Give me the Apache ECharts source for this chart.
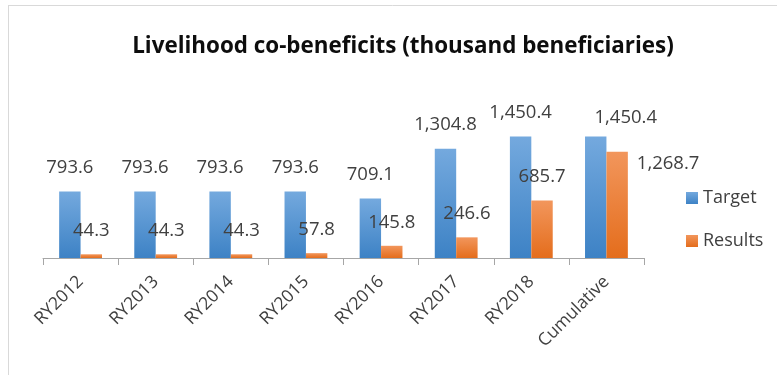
<!DOCTYPE html>
<html>
<head>
<meta charset="utf-8">
<script src="https://cdn.jsdelivr.net/npm/echarts@6/dist/echarts.min.js"></script>
<style>
html,body{margin:0;padding:0;background:#fff;}
#chart{width:777px;height:375px;}
</style>
</head>
<body>
<div id="chart"></div>
<script>
var categories = ['RY2012','RY2013','RY2014','RY2015','RY2016','RY2017','RY2018','Cumulative'];
var targetValues = [793.6, 793.6, 793.6, 793.6, 709.1, 1304.8, 1450.4, 1450.4];
var resultValues = [44.3, 44.3, 44.3, 57.8, 145.8, 246.6, 685.7, 1268.7];
var seriesNames = ['Target', 'Results'];
var chartTitle = 'Livelihood co-beneficits (thousand beneficiaries)';

var labelFont = 'Open Sans';
var labelColor = '#404040';

function fmt(p) {
  return Number(p.value).toLocaleString('en-US', {minimumFractionDigits: 1, maximumFractionDigits: 1});
}

var blueGrad = new echarts.graphic.LinearGradient(0, 0, 0, 1, [
  {offset: 0, color: '#74a9de'}, {offset: 1, color: '#3d82c5'}
]);
var orangeGrad = new echarts.graphic.LinearGradient(0, 0, 0, 1, [
  {offset: 0, color: '#f2965c'}, {offset: 1, color: '#e46d1c'}
]);

var targetData = targetValues.map(function (v, i) {
  var d = {value: v};
  if (i === categories.length - 1) {
    d.label = {offset: [30, 5]};
  }
  return d;
});
var resultData = resultValues.map(function (v, i) {
  var d = {value: v};
  if (i === categories.length - 1) {
    d.label = {position: ['100%', 0], align: 'left', verticalAlign: 'top', offset: [9, 2]};
  }
  return d;
});

var chart = echarts.init(document.getElementById('chart'), null, {renderer: 'canvas'});
chart.setOption({
  animation: false,
  backgroundColor: '#ffffff',
  title: {
    text: chartTitle,
    left: 398,
    top: 31,
    textAlign: 'center',
    textStyle: {fontFamily: 'Open Sans', fontWeight: 'bold', fontSize: 22.4, color: '#0d0d0d'}
  },
  legend: {
    orient: 'vertical',
    left: 686,
    top: 189,
    padding: 0,
    itemWidth: 12,
    itemHeight: 12,
    itemGap: 25,
    icon: 'rect',
    textStyle: {fontFamily: labelFont, fontSize: 18, color: labelColor},
    data: seriesNames
  },
  grid: {left: 43, right: 133, top: 124, bottom: 117, containLabel: false},
  xAxis: {
    type: 'category',
    data: categories,
    boundaryGap: true,
    axisLine: {show: true, lineStyle: {color: '#a6a6a6', width: 1}},
    axisTick: {show: true, length: 7, interval: 0, lineStyle: {color: '#a6a6a6'}},
    axisLabel: {rotate: 45, interval: 0, margin: 21, fontFamily: labelFont, fontSize: 17.5, color: labelColor}
  },
  yAxis: {
    type: 'value',
    min: 0,
    max: 1600,
    show: false,
    splitLine: {show: false}
  },
  graphic: [
    {type: 'line', shape: {x1: 8, y1: 5.5, x2: 777, y2: 5.5}, style: {stroke: '#d9d9d9', lineWidth: 1}},
    {type: 'line', shape: {x1: 8.5, y1: 5, x2: 8.5, y2: 375}, style: {stroke: '#d9d9d9', lineWidth: 1}}
  ],
  series: [
    {
      name: seriesNames[0],
      type: 'bar',
      data: targetData,
      barGap: '0%',
      barCategoryGap: '43%',
      itemStyle: {color: blueGrad},
      label: {show: true, position: 'top', distance: 14, formatter: fmt, fontFamily: labelFont, fontSize: 18.5, color: labelColor}
    },
    {
      name: seriesNames[1],
      type: 'bar',
      data: resultData,
      barGap: '0%',
      barCategoryGap: '43%',
      itemStyle: {color: orangeGrad},
      label: {show: true, position: 'top', distance: 14, formatter: fmt, fontFamily: labelFont, fontSize: 18.5, color: labelColor}
    }
  ]
});
</script>
</body>
</html>
